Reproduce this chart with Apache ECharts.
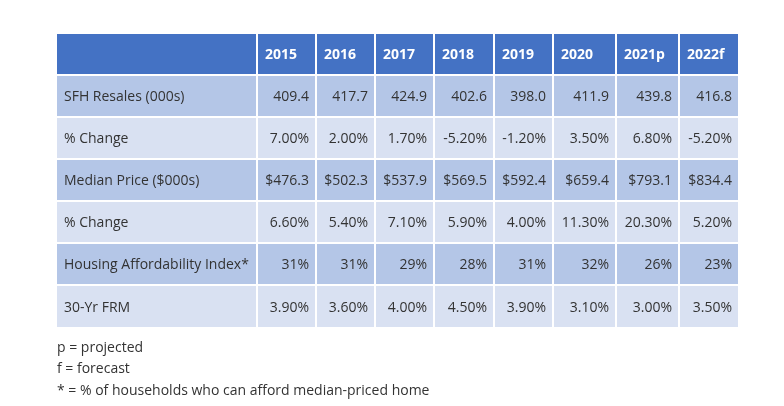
<!DOCTYPE html>
<html>
<head>
<meta charset="utf-8">
<script src="https://cdn.jsdelivr.net/npm/echarts@6/dist/echarts.min.js"></script>
<style>
  html, body { margin: 0; padding: 0; background: #fff; }
  #main { width: 784px; height: 406px; }
</style>
</head>
<body>
<div id="main"></div>
<script>
// table content
var years = ['2015', '2016', '2017', '2018', '2019', '2020', '2021p', '2022f'];
var rowLabels = ['SFH Resales (000s)', '% Change', 'Median Price ($000s)', '% Change',
  'Housing Affordability Index*', '30-Yr FRM'];
var sfhResales = [409.4, 417.7, 424.9, 402.6, 398.0, 411.9, 439.8, 416.8];
var resalesChange = [7.00, 2.00, 1.70, -5.20, -1.20, 3.50, 6.80, -5.20];
var medianPrice = [476.3, 502.3, 537.9, 569.5, 592.4, 659.4, 793.1, 834.4];
var priceChange = [6.60, 5.40, 7.10, 5.90, 4.00, 11.30, 20.30, 5.20];
var affordability = [31, 31, 29, 28, 31, 32, 26, 23];
var frm30 = [3.90, 3.60, 4.00, 4.50, 3.90, 3.10, 3.00, 3.50];
var footnotes = ['p = projected', 'f = forecast', '* = % of households who can afford median-priced home'];

// layout: column widths / row heights in grid units (px)
var colWidths = [201, 59, 59, 59, 60, 59, 63, 63, 60];
var rowHeights = [42, 42, 42, 42, 42, 42, 43];

function edges(arr) {
  var out = [0];
  arr.forEach(function (w) { out.push(out[out.length - 1] + w); });
  return out;
}
var colEdges = edges(colWidths);
var rowEdges = edges(rowHeights);

var rows = [
  { values: sfhResales, fmt: function (v) { return v.toFixed(1); } },
  { values: resalesChange, fmt: function (v) { return v.toFixed(2) + '%'; } },
  { values: medianPrice, fmt: function (v) { return '$' + v.toFixed(1); } },
  { values: priceChange, fmt: function (v) { return v.toFixed(2) + '%'; } },
  { values: affordability, fmt: function (v) { return v + '%'; } },
  { values: frm30, fmt: function (v) { return v.toFixed(2) + '%'; } }
];

var cells = [];
cells.push({ value: [0, 0], text: '', kind: 'head' });
years.forEach(function (y, i) {
  cells.push({ value: [i + 1, 0], text: y, kind: 'head' });
});
rows.forEach(function (r, ri) {
  cells.push({ value: [0, ri + 1], text: rowLabels[ri], kind: 'label' });
  r.values.forEach(function (v, ci) {
    cells.push({ value: [ci + 1, ri + 1], text: r.fmt(v), kind: 'num' });
  });
});

var darkRow = '#b4c6e7', lightRow = '#d9e1f2', headColor = '#4472c4';

function renderCell(params, api) {
  var c = cells[params.dataIndex];
  var col = api.value(0), row = api.value(1);
  var p0 = api.coord([colEdges[col], rowEdges[row]]);
  var p1 = api.coord([colEdges[col + 1], rowEdges[row + 1]]);
  var x = p0[0] + 1, y = p0[1] + 1;
  var w = p1[0] - p0[0] - 2, h = p1[1] - p0[1] - 2;
  var fill = row === 0 ? headColor : (row % 2 === 1 ? darkRow : lightRow);
  var right = c.kind === 'num';
  return {
    type: 'group',
    children: [
      { type: 'rect', shape: { x: x, y: y, width: w, height: h }, style: { fill: fill } },
      {
        type: 'text',
        x: right ? x + w - 6 : x + 7,
        y: y + h / 2 + 1.5,
        style: {
          text: c.text,
          fill: row === 0 ? '#ffffff' : '#333333',
          font: (row === 0 ? 'bold ' : '') + '14px "Open Sans"',
          align: right ? 'right' : 'left',
          verticalAlign: 'middle'
        }
      }
    ]
  };
}

var chart = echarts.init(document.getElementById('main'));
chart.setOption({
  animation: false,
  title: {
    text: footnotes.join('\n'),
    left: 57,
    top: 337,
    padding: 0,
    textStyle: { fontFamily: 'Open Sans', fontSize: 14, fontWeight: 'normal', color: '#333', lineHeight: 21.5 }
  },
  grid: { left: 56, top: 33, width: colEdges[colEdges.length - 1], height: rowEdges[rowEdges.length - 1] },
  xAxis: { type: 'value', min: 0, max: colEdges[colEdges.length - 1], show: false },
  yAxis: { type: 'value', min: 0, max: rowEdges[rowEdges.length - 1], inverse: true, show: false },
  series: [{
    type: 'custom',
    renderItem: renderCell,
    clip: false,
    encode: { x: 0, y: 1 },
    data: cells
  }]
});
</script>
</body>
</html>
